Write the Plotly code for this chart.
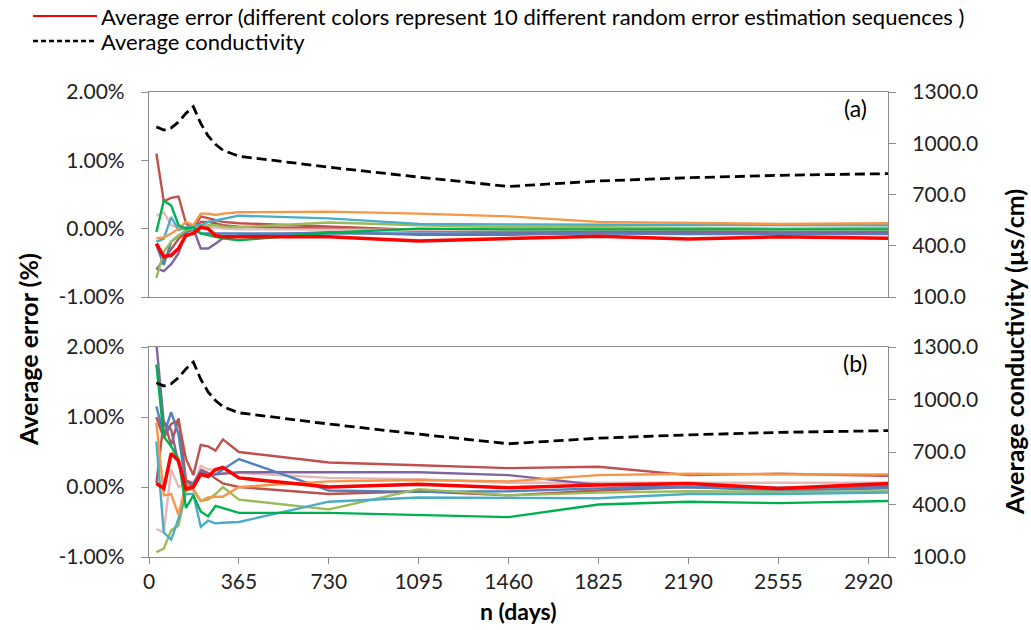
import plotly.graph_objects as go
from plotly.subplots import make_subplots

# ---------------- data ----------------
n_days = [30, 60, 90, 120, 150, 180, 210, 240, 270, 300, 365, 730, 1095, 1460, 1825, 2190, 2555, 3000]

conductivity = [1096, 1077, 1090, 1125, 1175, 1214, 1116, 1043, 994, 959, 924, 860, 802, 747, 779, 798, 812, 822]

series_names = ["seq1", "seq2", "seq3", "seq4", "seq5", "seq6", "seq7", "seq8", "seq9", "seq10"]
series_colors = ["#C0504D", "#B85450", "#E6B9B8", "#8064A2", "#4F81BD", "#9BBB59",
                 "#4BACC6", "#F79646", "#00B050", "#FF0000"]

# panel (a)
err_a = [
    [1.10, 0.40, 0.45, 0.47, 0.08, 0.00, 0.18, 0.15, 0.12, 0.10, 0.08, 0.03, -0.02, -0.05, -0.04, -0.05, -0.04, -0.05],
    [-0.60, -0.45, -0.30, -0.15, -0.05, -0.02, 0.10, 0.10, 0.08, 0.05, 0.03, 0.00, -0.03, -0.04, -0.03, -0.03, -0.02, -0.03],
    [0.19, 0.24, 0.05, 0.02, -0.02, 0.00, 0.05, 0.03, 0.02, 0.00, -0.01, -0.02, -0.02, -0.02, -0.01, -0.01, -0.02, -0.02],
    [-0.58, -0.62, -0.52, -0.36, -0.05, 0.00, -0.29, -0.29, -0.22, -0.14, -0.10, -0.05, -0.09, -0.09, -0.06, -0.05, -0.06, -0.05],
    [-0.24, -0.53, -0.19, -0.10, -0.04, 0.00, -0.07, -0.07, -0.06, -0.06, -0.06, -0.07, -0.07, -0.07, -0.07, -0.08, -0.08, -0.08],
    [-0.72, -0.34, -0.19, -0.10, -0.02, 0.00, 0.02, 0.05, 0.05, 0.03, 0.02, 0.09, 0.05, 0.02, 0.02, 0.01, 0.00, 0.01],
    [-0.19, -0.15, 0.17, -0.02, 0.02, 0.05, 0.05, 0.10, 0.12, 0.14, 0.19, 0.15, 0.07, 0.06, 0.06, 0.05, 0.05, 0.05],
    [-0.14, -0.13, -0.07, 0.00, 0.10, 0.05, 0.22, 0.22, 0.20, 0.22, 0.24, 0.25, 0.22, 0.18, 0.10, 0.09, 0.07, 0.08],
    [-0.05, 0.41, 0.34, 0.05, 0.00, 0.02, -0.07, -0.10, -0.12, -0.14, -0.17, -0.06, 0.00, -0.01, -0.01, -0.01, -0.01, -0.01],
    [-0.22, -0.41, -0.39, -0.29, -0.10, -0.07, 0.02, 0.00, -0.10, -0.12, -0.12, -0.12, -0.18, -0.15, -0.11, -0.15, -0.12, -0.14],
]

# panel (b)
err_b = [
    [1.00, 0.70, 0.90, 0.95, 0.40, 0.17, 0.60, 0.58, 0.52, 0.68, 0.50, 0.35, 0.31, 0.27, 0.29, 0.17, 0.19, 0.16],
    [0.05, 0.95, 0.60, 0.98, 0.10, 0.05, 0.25, 0.20, 0.12, 0.05, 0.00, -0.10, -0.06, -0.12, -0.05, 0.00, -0.02, 0.02],
    [-0.60, -0.65, 0.25, 0.00, 0.05, 0.00, 0.30, 0.25, 0.25, 0.20, 0.20, 0.13, 0.11, 0.06, 0.06, 0.06, 0.06, 0.06],
    [2.05, 0.92, 0.82, 0.33, 0.06, 0.04, 0.23, 0.18, 0.18, 0.19, 0.21, 0.21, 0.21, 0.17, 0.03, 0.00, -0.01, 0.00],
    [1.15, 0.75, 1.07, 0.75, 0.00, 0.05, 0.20, 0.15, 0.18, 0.25, 0.40, -0.05, -0.07, -0.06, -0.02, 0.00, -0.05, -0.02],
    [-0.93, -0.88, -0.62, -0.55, -0.05, -0.03, -0.20, -0.18, -0.10, 0.00, -0.18, -0.32, -0.03, -0.12, -0.08, -0.06, -0.07, -0.06],
    [0.65, -0.65, -0.75, -0.45, -0.10, -0.10, -0.57, -0.48, -0.52, -0.51, -0.50, -0.21, -0.15, -0.16, -0.16, -0.10, -0.10, -0.08],
    [0.92, -0.12, -0.10, -0.40, 0.05, -0.05, -0.20, -0.15, -0.14, -0.14, 0.00, 0.08, 0.10, 0.08, 0.17, 0.19, 0.18, 0.18],
    [1.75, 0.72, 0.58, 0.40, -0.30, -0.12, -0.35, -0.42, -0.27, -0.30, -0.37, -0.37, -0.40, -0.43, -0.25, -0.21, -0.23, -0.20],
    [0.05, -0.02, 0.48, 0.37, -0.03, 0.00, 0.18, 0.15, 0.25, 0.28, 0.13, 0.00, 0.04, -0.01, 0.03, 0.05, -0.02, 0.05],
]

x_ticks = [0, 365, 730, 1095, 1460, 1825, 2190, 2555, 2920]
err_ticks = [-1, 0, 1, 2]
err_tick_labels = ["-1.00%", "0.00%", "1.00%", "2.00%"]
cond_ticks = [100, 400, 700, 1000, 1300]
cond_tick_labels = ["100.0", "400.0", "700.0", "1000.0", "1300.0"]

legend_err = "Average error (different colors represent 10 different random error estimation sequences )"
legend_cond = "Average conductivity"

# ---------------- figure ----------------
FONT = "Lato, Carlito, 'Open Sans', sans-serif"
AX = "#8C8C8C"

fig = make_subplots(rows=2, cols=1, specs=[[{"secondary_y": True}], [{"secondary_y": True}]],
                    vertical_spacing=0.05)

for row, data in ((1, err_a), (2, err_b)):
    for name, col, vals in zip(series_names, series_colors, data):
        fig.add_trace(go.Scatter(x=n_days, y=vals, mode="lines", name=name, showlegend=False,
                                 line=dict(color=col, width=3.5 if col == "#FF0000" else 2.4)),
                      row=row, col=1, secondary_y=False)
    fig.add_trace(go.Scatter(x=n_days, y=conductivity, mode="lines", name=legend_cond, showlegend=False,
                             line=dict(color="black", width=2.8, dash="10px,5px")),
                  row=row, col=1, secondary_y=True)

W, H = 1031, 630
PL, PR, PT, PB = 149, 888, 92, 557          # plot area in page pixels
L, R, T, B = PL, W - PR, PT, H - PB
pw = W - L - R
ph = H - T - B
top_dom = [(PB - 297) / ph, 1.0]
bot_dom = [0.0, (PB - 347) / ph]

fig.update_layout(
    width=W, height=H, margin=dict(l=L, r=R, t=T, b=B),
    paper_bgcolor="white", plot_bgcolor="white",
    font=dict(family=FONT, size=21, color="#222222"),
    showlegend=False,
)

common_x = dict(range=[0, 3000], showgrid=False, zeroline=False, showline=True, linecolor=AX,
                linewidth=1.3, mirror=True, tickmode="array", tickvals=x_ticks,
                ticktext=[str(v) for v in x_ticks])
fig.update_xaxes(**common_x, row=1, col=1)
fig.update_xaxes(ticks="", showticklabels=False, row=1, col=1)
fig.update_xaxes(**common_x, row=2, col=1)
fig.update_xaxes(ticks="outside", ticklen=6, tickcolor=AX, tickfont=dict(size=21), row=2, col=1)
fig.layout.xaxis.domain = [0, 1]
fig.layout.xaxis2.domain = [0, 1]

common_err = dict(range=[-1, 2], tickmode="array", tickvals=err_ticks, ticktext=err_tick_labels,
                  showgrid=False, zeroline=False, showline=True, linecolor=AX, linewidth=1.3,
                  ticks="outside", ticklen=7, tickcolor=AX, ticklabelstandoff=12)
common_cond = dict(range=[100, 1300], tickmode="array", tickvals=cond_ticks, ticktext=cond_tick_labels,
                   showgrid=False, zeroline=False, showline=True, linecolor=AX, linewidth=1.3,
                   ticks="outside", ticklen=7, tickcolor=AX, ticklabelstandoff=12)
fig.update_yaxes(**common_err, row=1, col=1, secondary_y=False)
fig.update_yaxes(**common_err, row=2, col=1, secondary_y=False)
fig.update_yaxes(**common_cond, row=1, col=1, secondary_y=True)
fig.update_yaxes(**common_cond, row=2, col=1, secondary_y=True)
fig.layout.yaxis.domain = top_dom
fig.layout.yaxis2.domain = top_dom
fig.layout.yaxis3.domain = bot_dom
fig.layout.yaxis4.domain = bot_dom

def px_x(px):
    return (px - PL) / pw

def px_y(py):
    return (PB - py) / ph

ann = []
ann.append(dict(text="(a)", x=px_x(855), y=px_y(108), xref="paper", yref="paper", showarrow=False,
                font=dict(size=23, color="black"), xanchor="center", yanchor="middle"))
ann.append(dict(text="(b)", x=px_x(855), y=px_y(363), xref="paper", yref="paper", showarrow=False,
                font=dict(size=23, color="black"), xanchor="center", yanchor="middle"))
ann.append(dict(text="<b>Average error (%)</b>", x=px_x(28), y=px_y(350), xref="paper", yref="paper",
                showarrow=False, textangle=-90, font=dict(size=25, color="black"),
                xanchor="center", yanchor="middle"))
ann.append(dict(text="<b>Average conductivity (µs/cm)</b>", x=px_x(1014), y=px_y(352), xref="paper",
                yref="paper", showarrow=False, textangle=-90, font=dict(size=25, color="black"),
                xanchor="center", yanchor="middle"))
ann.append(dict(text="<b>n (days)</b>", x=px_x(518), y=px_y(611), xref="paper", yref="paper",
                showarrow=False, font=dict(size=23, color="black"), xanchor="center", yanchor="middle"))
# legend texts
ann.append(dict(text=legend_err, x=px_x(99), y=px_y(16), xref="paper", yref="paper", showarrow=False,
                font=dict(size=22, color="black"), xanchor="left", yanchor="middle"))
ann.append(dict(text=legend_cond, x=px_x(99), y=px_y(41), xref="paper", yref="paper", showarrow=False,
                font=dict(size=22, color="black"), xanchor="left", yanchor="middle"))
fig.update_layout(annotations=ann)

# legend keys
fig.add_shape(type="line", xref="paper", yref="paper", x0=px_x(33), x1=px_x(97), y0=px_y(16), y1=px_y(16),
              line=dict(color="#FF0000", width=2))
fig.add_shape(type="line", xref="paper", yref="paper", x0=px_x(33), x1=px_x(97), y0=px_y(41), y1=px_y(41),
              line=dict(color="black", width=2.5, dash="5px,3px"))

# remove the default 8px page margin so the figure fills the window exactly; hide the mode bar
fig.write_html("out.html", config={"displayModeBar": False},
               post_script="document.body.style.margin='0px';")
